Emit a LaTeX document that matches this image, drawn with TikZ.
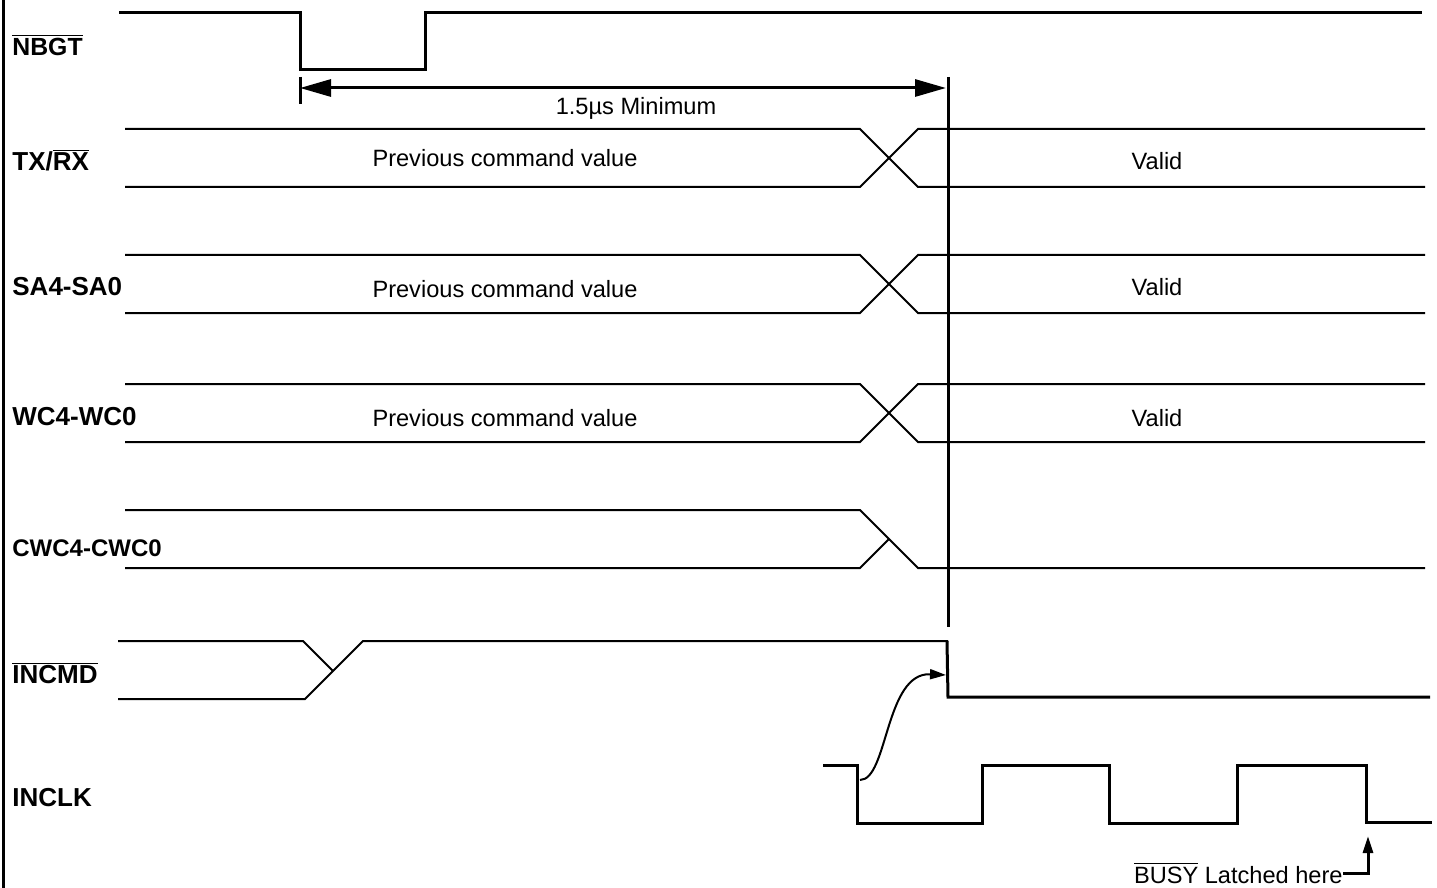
\documentclass[tikz,border=0pt]{standalone}
\usepackage{fontspec}
\setmainfont{Liberation Sans}
\usetikzlibrary{arrows.meta}
\newcommand\ovl[1]{$\overline{\mbox{#1}}$}
\begin{document}
\begin{tikzpicture}[x=0.5pt,y=-0.5pt,
  thick line/.style={line width=1.5pt},
  bus line/.style={line width=1pt},
  lbl/.style={font=\bfseries\fontsize{13}{15}\selectfont, anchor=west, inner sep=0pt},
  txt/.style={font=\fontsize{11.8}{14}\selectfont, inner sep=0pt},
  bigtips/.style={{Triangle[length=15.5pt,width=8.5pt]}-{Triangle[length=15.5pt,width=8.5pt]}},
  smalltip/.style={-{Triangle[length=8pt,width=5pt]}}]
\useasboundingbox (0,0) rectangle (1437,888);
% left border
\draw[thick line] (3,0) -- (3,888);
% labels
\node[lbl, font=\bfseries\fontsize{12.4}{15}\selectfont] (lNBGT) at (12,45) {\ovl{NBGT}};
\node[lbl] (lTX) at (12,160) {TX/\ovl{RX}};
\node[lbl] (lSA) at (12,287) {SA4-SA0};
\node[lbl] (lWC) at (12,417) {WC4-WC0};
\node[lbl, font=\bfseries\fontsize{12}{15}\selectfont] (lCWC) at (12,548) {CWC4-CWC0};
\node[lbl] (lINCMD) at (12,673) {\ovl{INCMD}};
\node[lbl] (lINCLK) at (12,798) {INCLK};
% NBGT
\draw[thick line] (119,13) -- (300,13) -- (300,70) -- (425,70) -- (425,13) -- (1422,13);
% dimension
\coordinate (dA) at (300,88);
\coordinate (dB) at (946,88);
\draw[thick line] (300,77) -- (300,104);
\draw[line width=1.5pt, bigtips] (dA) -- (dB);
\node[txt] (dim) at (636,108) {1.5µs Minimum};
% vertical reference line
\draw[thick line] (948,77) -- (948,627);
% bus signals
\foreach \t/\b in {129/187, 255/313, 384/442}{
  \draw[bus line] (125,\t) -- (860,\t) -- (918,\b) -- (1425,\b);
  \draw[bus line] (125,\b) -- (860,\b) -- (918,\t) -- (1425,\t);
}
\node[txt] (pTX) at (505,158) {Previous command value};
\node[txt] (vTX) at (1157,161) {Valid};
\node[txt] (pSA) at (505,289) {Previous command value};
\node[txt] (vSA) at (1157,287) {Valid};
\node[txt] (pWC) at (505,418) {Previous command value};
\node[txt] (vWC) at (1157,418) {Valid};
% CWC
\draw[bus line] (125,510) -- (860,510) -- (918,568) -- (1425,568);
\draw[bus line] (125,568) -- (860,568) -- (889,539);
% INCMD
\draw[bus line] (118,641) -- (303,641) -- (333,671);
\draw[bus line] (118,699) -- (305,699) -- (363,641) -- (948,641);
\draw[thick line] (947,641) -- (948,697) -- (1430,697);
% INCLK
\draw[thick line] (823,765) -- (857,765) -- (857,823) -- (982,823) -- (982,765) -- (1109,765)
  -- (1109,823) -- (1237,823) -- (1237,765) -- (1366,765) -- (1366,822) -- (1432,822);
% curved arrow
\coordinate (cS) at (860,780);
\coordinate (cE) at (946,675);
\draw[line width=1pt, smalltip] (cS) .. controls (888,780) and (885,672) .. (cE);
% BUSY latched
\node[txt, anchor=east] (busy) at (1343,873) {\ovl{BUSY} Latched here};
\coordinate (bT) at (1368,836);
\draw[line width=1.5pt, -{Triangle[length=8.5pt,width=5pt]}] (busy.east) -- (1368,873) -- (bT);
\end{tikzpicture}
\end{document}
